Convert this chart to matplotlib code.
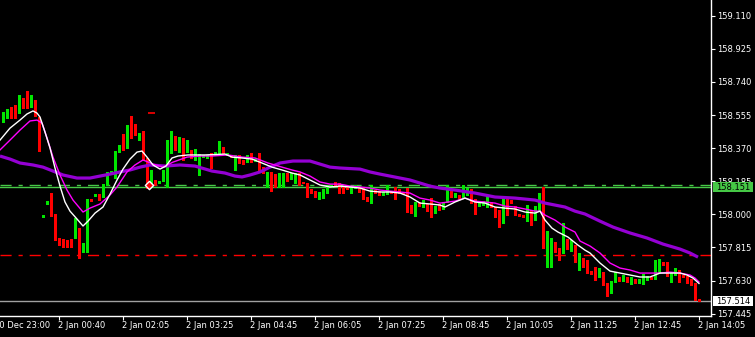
import matplotlib
matplotlib.use('Agg')
import matplotlib.pyplot as plt
import matplotlib.transforms as mtrans
from matplotlib.patches import Rectangle
import numpy as np

# ---------------- data (USDJPY-like M5 candles) ----------------
opens = [158.544, 158.544, 158.589, 158.583, 158.572, 158.639, 158.639, 158.628, 158.633, 158.538,
         157.985, 158.058, 158.086, 158.002, 157.856, 157.834, 157.845, 157.851, 157.901, 157.873,
         157.800, 157.817, 158.086, 158.102, 158.113, 158.097, 158.164, 158.231, 158.203, 158.348,
         158.382, 158.371, 158.494, 158.505, 158.438, 158.455, 158.304, 158.169, 158.186, 158.175,
         158.186, 158.231, 158.343, 158.438, 158.348, 158.371, 158.348, 158.360, 158.304, 158.270,
         158.320, 158.315, 158.332, 158.332, 158.343, 158.376, 158.332, 158.332, 158.264, 158.320,
         158.304, 158.292, 158.320, 158.304, 158.332, 158.264, 158.225, 158.237, 158.225, 158.220,
         158.214, 158.231, 158.203, 158.192, 158.231, 158.181, 158.175, 158.141, 158.130, 158.097,
         158.091, 158.119, 158.158, 158.175, 158.164, 158.153, 158.153, 158.136, 158.153, 158.153,
         158.136, 158.097, 158.091, 158.136, 158.130, 158.108, 158.113, 158.130, 158.147, 158.141,
         158.125, 158.119, 158.052, 158.013, 158.069, 158.046, 158.058, 158.041, 158.007, 158.046,
         158.030, 158.069, 158.136, 158.097, 158.108, 158.097, 158.108, 158.136, 158.086, 158.046,
         158.052, 158.063, 158.069, 158.041, 157.996, 157.951, 158.091, 158.080, 158.046, 158.002,
         157.996, 157.985, 158.024, 157.968, 158.024, 158.080, 157.761, 157.745, 157.845, 157.812,
         157.784, 157.862, 157.812, 157.828, 157.733, 157.756, 157.728, 157.683, 157.683, 157.661,
         157.677, 157.605, 157.571, 157.622, 157.650, 157.627, 157.650, 157.622, 157.638, 157.616,
         157.622, 157.633, 157.650, 157.638, 157.672, 157.733, 157.733, 157.650, 157.661, 157.689,
         157.661, 157.655, 157.638, 157.616, 157.527]
highs = [158.572, 158.589, 158.600, 158.611, 158.667, 158.650, 158.689, 158.667, 158.639, 158.544,
         157.996, 158.074, 158.119, 158.002, 157.868, 157.862, 157.856, 157.862, 157.979, 157.923,
         157.840, 158.086, 158.086, 158.113, 158.113, 158.169, 158.237, 158.242, 158.354, 158.387,
         158.449, 158.499, 158.550, 158.505, 158.455, 158.466, 158.315, 158.248, 158.192, 158.186,
         158.248, 158.415, 158.466, 158.438, 158.432, 158.427, 158.415, 158.360, 158.365, 158.337,
         158.332, 158.332, 158.343, 158.348, 158.410, 158.376, 158.343, 158.332, 158.332, 158.332,
         158.304, 158.332, 158.343, 158.309, 158.343, 158.264, 158.237, 158.237, 158.225, 158.231,
         158.231, 158.231, 158.231, 158.231, 158.231, 158.181, 158.175, 158.141, 158.130, 158.125,
         158.141, 158.153, 158.164, 158.181, 158.175, 158.153, 158.153, 158.153, 158.164, 158.153,
         158.147, 158.097, 158.164, 158.136, 158.130, 158.125, 158.164, 158.130, 158.153, 158.141,
         158.125, 158.147, 158.052, 158.069, 158.069, 158.080, 158.058, 158.091, 158.046, 158.058,
         158.069, 158.164, 158.136, 158.119, 158.108, 158.164, 158.147, 158.141, 158.086, 158.069,
         158.074, 158.102, 158.069, 158.041, 158.024, 158.097, 158.091, 158.080, 158.046, 158.002,
         157.996, 158.052, 158.024, 158.046, 158.119, 158.153, 157.907, 157.868, 157.845, 157.812,
         157.951, 157.862, 157.856, 157.828, 157.784, 157.756, 157.745, 157.683, 157.705, 157.700,
         157.677, 157.616, 157.627, 157.677, 157.650, 157.661, 157.650, 157.650, 157.638, 157.638,
         157.666, 157.655, 157.650, 157.745, 157.750, 157.733, 157.733, 157.672, 157.700, 157.689,
         157.661, 157.655, 157.638, 157.616, 157.527]
lows = [158.516, 158.538, 158.538, 158.538, 158.566, 158.594, 158.594, 158.600, 158.550, 158.354,
        157.985, 158.058, 157.991, 157.856, 157.828, 157.817, 157.817, 157.817, 157.868, 157.756,
        157.789, 157.789, 158.074, 158.102, 158.080, 158.097, 158.164, 158.225, 158.203, 158.348,
        158.360, 158.371, 158.427, 158.443, 158.415, 158.304, 158.147, 158.158, 158.164, 158.175,
        158.186, 158.153, 158.343, 158.360, 158.348, 158.304, 158.348, 158.315, 158.304, 158.220,
        158.320, 158.315, 158.259, 158.332, 158.343, 158.343, 158.332, 158.320, 158.248, 158.287,
        158.281, 158.292, 158.292, 158.298, 158.248, 158.231, 158.153, 158.130, 158.153, 158.153,
        158.153, 158.186, 158.198, 158.175, 158.164, 158.175, 158.097, 158.119, 158.097, 158.086,
        158.091, 158.119, 158.153, 158.158, 158.119, 158.119, 158.141, 158.119, 158.147, 158.125,
        158.086, 158.074, 158.063, 158.119, 158.108, 158.108, 158.113, 158.119, 158.086, 158.119,
        158.119, 158.013, 158.007, 157.991, 158.046, 158.041, 158.018, 157.985, 158.007, 158.024,
        158.030, 158.069, 158.097, 158.097, 158.086, 158.097, 158.108, 158.063, 158.002, 158.046,
        158.052, 158.041, 158.041, 157.985, 157.929, 157.951, 157.996, 158.063, 157.996, 157.991,
        157.985, 157.962, 157.940, 157.968, 158.024, 157.812, 157.705, 157.705, 157.789, 157.745,
        157.784, 157.806, 157.795, 157.733, 157.689, 157.705, 157.672, 157.666, 157.633, 157.650,
        157.605, 157.543, 157.560, 157.622, 157.627, 157.627, 157.622, 157.610, 157.616, 157.616,
        157.610, 157.633, 157.638, 157.638, 157.672, 157.717, 157.655, 157.622, 157.661, 157.622,
        157.650, 157.616, 157.605, 157.521, 157.515]
closes = [158.555, 158.583, 158.583, 158.561, 158.639, 158.628, 158.628, 158.639, 158.555, 158.460,
          157.996, 158.074, 157.991, 157.856, 157.834, 157.823, 157.834, 157.817, 157.923, 157.800,
          157.828, 158.086, 158.074, 158.113, 158.102, 158.153, 158.237, 158.237, 158.354, 158.382,
          158.376, 158.499, 158.427, 158.443, 158.455, 158.304, 158.169, 158.181, 158.169, 158.186,
          158.231, 158.343, 158.466, 158.360, 158.376, 158.348, 158.360, 158.315, 158.365, 158.337,
          158.332, 158.332, 158.287, 158.348, 158.371, 158.343, 158.343, 158.320, 158.332, 158.304,
          158.281, 158.332, 158.315, 158.304, 158.259, 158.231, 158.237, 158.209, 158.209, 158.231,
          158.225, 158.186, 158.231, 158.231, 158.175, 158.175, 158.136, 158.119, 158.097, 158.102,
          158.141, 158.153, 158.158, 158.158, 158.125, 158.141, 158.141, 158.153, 158.158, 158.125,
          158.113, 158.074, 158.164, 158.119, 158.108, 158.125, 158.125, 158.119, 158.125, 158.119,
          158.119, 158.035, 158.007, 158.069, 158.046, 158.063, 158.018, 158.007, 158.046, 158.024,
          158.069, 158.136, 158.097, 158.108, 158.086, 158.119, 158.136, 158.097, 158.052, 158.069,
          158.074, 158.086, 158.041, 157.985, 157.951, 158.097, 158.063, 158.063, 157.996, 157.991,
          157.985, 158.030, 157.985, 158.024, 158.074, 157.812, 157.773, 157.856, 157.789, 157.789,
          157.868, 157.806, 157.823, 157.733, 157.773, 157.711, 157.677, 157.666, 157.677, 157.677,
          157.605, 157.571, 157.627, 157.661, 157.627, 157.661, 157.622, 157.644, 157.616, 157.638,
          157.650, 157.655, 157.638, 157.689, 157.728, 157.717, 157.655, 157.666, 157.694, 157.672,
          157.650, 157.616, 157.605, 157.521, 157.514]

# moving averages (bar index, price)
fast_idx = [-0.75, 1.75, 4.25, 6, 7.5, 8.5, 9.25, 10.5, 11.75, 13, 14.25, 15.5, 16.75, 18.5, 20, 21.25,
            23, 25, 26.75, 28.5, 30, 31.75, 33.5, 34.75, 36, 37.5, 39.25, 40.75, 42.25, 43.75, 46.25,
            50.5, 55.5, 57.25, 59.75, 62.25, 64.75, 67.25, 69.75, 72.25, 74.25, 76.75, 79.25, 81.75,
            84.25, 86.75, 89.25, 91.75, 94.25, 96.75, 99.25, 101.75, 104.25, 106.75, 109.25, 110.5,
            113, 115.5, 118, 120.5, 123, 125.5, 128, 130.5, 133, 134.25, 135.5, 137.25, 138.75,
            141.25, 143.75, 145.5, 146.75, 149.25, 151.75, 154.25, 156.75, 159.25, 161.75, 164.25,
            166.75, 169.25, 171, 172.5, 174]
fast_val = [158.415, 158.482, 158.527, 158.561, 158.578, 158.566, 158.544, 158.460, 158.371, 158.259,
            158.158, 158.069, 158.018, 157.974, 157.935, 157.962, 158.007, 158.041, 158.113, 158.192,
            158.253, 158.309, 158.348, 158.354, 158.320, 158.276, 158.253, 158.270, 158.315, 158.326,
            158.332, 158.332, 158.337, 158.320, 158.315, 158.309, 158.287, 158.264, 158.248, 158.231,
            158.220, 158.192, 158.164, 158.153, 158.158, 158.153, 158.147, 158.130, 158.125, 158.125,
            158.119, 158.097, 158.063, 158.058, 158.052, 158.041, 158.069, 158.091, 158.069, 158.063,
            158.041, 158.035, 158.030, 158.013, 158.007, 158.018, 157.968, 157.923, 157.901, 157.873,
            157.828, 157.800, 157.784, 157.728, 157.683, 157.672, 157.661, 157.650, 157.650, 157.672,
            157.672, 157.672, 157.661, 157.644, 157.614]
mid_idx = [-0.75, 1.75, 4.25, 6.75, 8.5, 9.75, 11, 12.5, 14.25, 16, 17.5, 20, 21.75, 24.25, 26.75, 28.5,
           31, 33, 35, 37.5, 40, 42.5, 46, 49.25, 52.25, 56.25, 59.75, 63, 66.25, 69.75, 72.25, 74.25,
           76.75, 79.25, 81.75, 84.25, 86.75, 89.25, 91.75, 94.25, 96.75, 99.25, 101.75, 104.25,
           106.75, 109.25, 113, 115.5, 118, 120.5, 123, 125.5, 128, 130.5, 133, 134.25, 135.5, 138,
           140.5, 143, 144.25, 146.75, 149.25, 151.75, 154.25, 156.75, 159.25, 161.75, 164.25, 166.75,
           169.25, 171.75, 173, 174]
mid_val = [158.360, 158.415, 158.471, 158.522, 158.527, 158.510, 158.427, 158.320, 158.220, 158.136,
           158.080, 158.013, 158.035, 158.058, 158.108, 158.153, 158.237, 158.276, 158.304, 158.281,
           158.264, 158.292, 158.320, 158.326, 158.326, 158.332, 158.320, 158.315, 158.287, 158.264,
           158.248, 158.237, 158.214, 158.181, 158.169, 158.169, 158.158, 158.153, 158.147, 158.136,
           158.130, 158.125, 158.119, 158.091, 158.080, 158.063, 158.074, 158.091, 158.074, 158.069,
           158.063, 158.046, 158.041, 158.030, 158.018, 158.018, 157.996, 157.968, 157.929, 157.901,
           157.851, 157.823, 157.784, 157.728, 157.700, 157.689, 157.672, 157.672, 157.672, 157.677,
           157.672, 157.661, 157.644, 157.622]
slow_idx = [-0.75, 1.75, 4.25, 7.5, 10, 12.5, 15, 18.5, 21.75, 24.25, 26.75, 29.25, 31.75, 34.25, 36.75,
            40.5, 44.25, 48, 52.25, 55.5, 58, 59.75, 61.75, 64.25, 66.75, 69.25, 72.5, 76.75, 79.25,
            81.75, 84.25, 89.25, 91.75, 94.25, 96.75, 99.25, 101.75, 104.25, 106.75, 109.25, 113, 118,
            123, 128, 133, 135.5, 138, 140.5, 143, 145.5, 149.25, 152.5, 156.75, 161, 165, 169.25,
            171.75, 173.75]
slow_val = [158.326, 158.309, 158.287, 158.276, 158.264, 158.242, 158.220, 158.203, 158.203, 158.214,
            158.225, 158.237, 158.248, 158.264, 158.276, 158.270, 158.276, 158.270, 158.242, 158.231,
            158.214, 158.209, 158.220, 158.237, 158.264, 158.287, 158.298, 158.298, 158.281, 158.264,
            158.259, 158.253, 158.237, 158.225, 158.214, 158.203, 158.192, 158.175, 158.158, 158.147,
            158.136, 158.119, 158.097, 158.091, 158.080, 158.063, 158.052, 158.041, 158.018, 158.002,
            157.962, 157.929, 157.896, 157.868, 157.834, 157.806, 157.784, 157.761]

time_ticks = [-2, 14, 30, 46, 62, 78, 94, 110, 126, 142, 158, 174]
time_labels = ['30 Dec 23:00', '2 Jan 00:40', '2 Jan 02:05', '2 Jan 03:25', '2 Jan 04:45',
               '2 Jan 06:05', '2 Jan 07:25', '2 Jan 08:45', '2 Jan 10:05', '2 Jan 11:25',
               '2 Jan 12:45', '2 Jan 14:05']
price_ticks = [159.110, 158.925, 158.740, 158.555, 158.370, 158.185, 158.000, 157.815, 157.630, 157.445]

level_line = 158.151      # solid green horizontal line (labelled)
level_dash_green = 158.163
level_dash_red = 157.772
last_price = 157.514
order_mark_price = 158.164
order_mark_idx = 36.4
order_level = 158.566

# ---------------- figure ----------------
W, H = 755, 337
fig = plt.figure(figsize=(W / 100, H / 100), dpi=100, facecolor='black')
ax = fig.add_axes([0, 21 / H, 711 / W, 316 / H])
ax.set_facecolor('black')
ax.set_xlim(-0.75, 177.0)
ax.set_ylim(157.432, 159.198)

PX = 0.72  # one pixel in points
UP = '#00e600'
DN = '#ff0000'
GL = '#46c846'

# horizontal levels
ax.axhline(level_dash_green, color=GL, lw=1.0, ls=(0, (8, 5, 3, 5)), zorder=1)
ax.axhline(level_line, color=GL, lw=1.0, zorder=1)
ax.axhline(level_dash_red, color=DN, lw=1.0, ls=(0, (8, 5, 3, 5)), zorder=1)
ax.axhline(last_price, color='#a0a0a0', lw=1.0, zorder=1)

# candles
o = np.array(opens); h = np.array(highs); l = np.array(lows); c = np.array(closes)
idx = np.arange(len(o))
colors = np.where(c >= o, UP, DN)
ax.vlines(idx, l, h, colors=colors, lw=PX * 1.05, antialiased=False, zorder=2)
body_lo = np.minimum(o, c)
body_h = np.maximum(np.abs(c - o), 0.0056)
ax.bar(idx, body_h, bottom=body_lo, width=0.75, color=colors, linewidth=0,
       antialiased=False, zorder=3)

# moving averages
ax.plot(slow_idx, slow_val, color='#9400d3', lw=2.3, zorder=4, solid_capstyle='butt')
ax.plot(mid_idx, mid_val, color='#ff00ff', lw=1.0, zorder=5)
ax.plot(fast_idx, fast_val, color='#ffffff', lw=1.0, zorder=6)

# trade objects
ax.hlines(order_level, 36.25, 38.0, color=DN, lw=1.2, zorder=6)
ax.scatter([order_mark_idx], [order_mark_price], marker='D', s=18, facecolor=DN,
           edgecolor='white', linewidth=1.0, zorder=7)

# spines / ticks
for s in ['top', 'left']:
    ax.spines[s].set_visible(False)
for s in ['right', 'bottom']:
    ax.spines[s].set_color('white')
    ax.spines[s].set_linewidth(1.0)

ax.yaxis.tick_right()
ax.set_yticks(price_ticks)
ax.set_yticklabels([f'{p:.3f}' for p in price_ticks])
ax.tick_params(axis='y', colors='white', length=3, width=0.8, pad=1.5, labelsize=6,
               labelcolor='white')
xt = [t for t in time_ticks if t >= -0.75]
ax.set_xticks(xt)
ax.set_xticklabels([])
ax.tick_params(axis='x', colors='white', length=3, width=0.8)

btrans = mtrans.blended_transform_factory(ax.transData, ax.transAxes)
for t, lab in zip(time_ticks, time_labels):
    ax.annotate(lab, xy=(t, 0), xycoords=btrans, xytext=(-1, -5.5), textcoords='offset pixels',
                ha='left', va='top', fontsize=6, color='white', annotation_clip=False)

# price boxes on the right axis
fig.canvas.draw()
def price_box(price, face):
    y = ax.transData.transform((0, price))[1]
    fig.add_artist(Rectangle((713, y - 4.5), 40, 9.5, transform=mtrans.IdentityTransform(),
                             facecolor=face, edgecolor='none', zorder=10))
    fig.text(716 / W, y / H, f'{price:.3f}', ha='left', va='center', fontsize=6,
             color='black', zorder=11)

price_box(level_line, GL)
price_box(last_price, 'white')

fig.savefig('out.png', dpi=100, facecolor='black')
